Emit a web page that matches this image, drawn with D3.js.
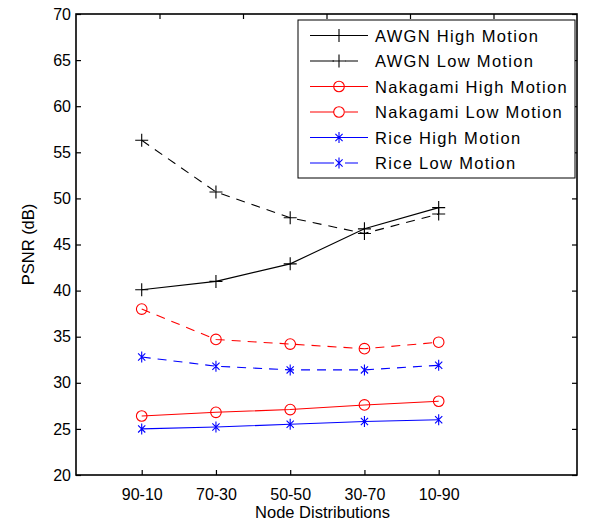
<!DOCTYPE html>
<html>
<head>
<meta charset="utf-8">
<script src="https://cdn.jsdelivr.net/npm/d3@7"></script>
<style>
  body { margin: 0; background: #fff; }
  svg { font-family: Arial, "Liberation Sans", sans-serif; }
</style>
</head>
<body>
<svg id="chart" width="589" height="523"></svg>
<script>
// node distribution categories
const categories = ["90-10", "70-30", "50-50", "30-70", "10-90"];
const yTicks = [20, 25, 30, 35, 40, 45, 50, 55, 60, 65, 70];

// PSNR values (dB)
const awgnHigh = [40.1, 41.0, 42.9, 46.7, 49.0];
const awgnLow = [56.3, 50.7, 47.9, 46.2, 48.3];
const nakHigh = [26.4, 26.8, 27.1, 27.6, 28.0];
const nakLow = [38.0, 34.7, 34.2, 33.7, 34.4];
const riceHigh = [25.0, 25.2, 25.5, 25.8, 26.0];
const riceLow = [32.8, 31.8, 31.4, 31.4, 31.9];

const series = [
    { name: "AWGN High Motion", values: awgnHigh, color: "#000", dash: null, marker: "plus" },
    { name: "AWGN Low Motion", values: awgnLow, color: "#000", dash: "9,7", marker: "plus" },
    { name: "Nakagami High Motion", values: nakHigh, color: "#f00", dash: null, marker: "circle" },
    { name: "Nakagami Low Motion", values: nakLow, color: "#f00", dash: "9,7", marker: "circle" },
    { name: "Rice High Motion", values: riceHigh, color: "#00f", dash: null, marker: "star" },
    { name: "Rice Low Motion", values: riceLow, color: "#00f", dash: "9,7", marker: "star" }
];

const plotL = 76, plotR = 577, plotT = 14, plotB = 475;
const svg = d3.select("#chart");

const x = d3.scaleLinear().domain([-0.885, 5.863]).range([plotL, plotR]);
const xTop = d3.scaleLinear().domain([0, 6]).range([plotL, plotR]);
const y = d3.scaleLinear().domain([20, 70]).range([plotB, plotT]);

// draw a marker at px,py
function drawMarker(g, type, px, py, color) {
    if (type === "plus") {
        g.append("path")
            .attr("d", `M${px - 6.5},${py}H${px + 6.5}M${px},${py - 6.5}V${py + 6.5}`)
            .attr("stroke", color).attr("stroke-width", 1.1).attr("fill", "none");
    } else if (type === "circle") {
        g.append("circle")
            .attr("cx", px).attr("cy", py).attr("r", 5.3)
            .attr("stroke", color).attr("stroke-width", 1.1).attr("fill", "none");
    } else {
        const r = 5.5, d = 3.6;
        g.append("path")
            .attr("d", `M${px},${py - r}V${py + r}M${px - d},${py - d}L${px + d},${py + d}M${px - d},${py + d}L${px + d},${py - d}`)
            .attr("stroke", color).attr("stroke-width", 1.1).attr("fill", "none");
    }
}

// series
const line = d3.line().x((d, i) => x(i)).y(d => y(d));
series.forEach(s => {
    const g = svg.append("g");
    g.append("path")
        .datum(s.values)
        .attr("d", line)
        .attr("fill", "none")
        .attr("stroke", s.color)
        .attr("stroke-width", 1.1)
        .attr("stroke-dasharray", s.dash);
    s.values.forEach((v, i) => drawMarker(g, s.marker, x(i), y(v), s.color));
});

// axes box
svg.append("rect")
    .attr("x", plotL).attr("y", plotT)
    .attr("width", plotR - plotL).attr("height", plotB - plotT)
    .attr("fill", "none").attr("stroke", "#000").attr("stroke-width", 1.6);

const yAxis = svg.append("g")
    .attr("transform", `translate(${plotL},0)`)
    .call(d3.axisLeft(y).tickValues(yTicks).tickSize(-5).tickPadding(5));
yAxis.select(".domain").remove();
yAxis.selectAll("text").attr("font-size", 16).attr("fill", "#000").attr("font-family", null);

const yAxisR = svg.append("g")
    .attr("transform", `translate(${plotR},0)`)
    .call(d3.axisRight(y).tickValues(yTicks).tickSize(-5).tickFormat(""));
yAxisR.select(".domain").remove();

const xAxis = svg.append("g")
    .attr("transform", `translate(0,${plotB})`)
    .call(d3.axisBottom(x).tickValues(d3.range(categories.length))
        .tickFormat(i => categories[i]).tickSize(-5).tickPadding(14));
xAxis.select(".domain").remove();
xAxis.selectAll("text").attr("font-size", 16).attr("fill", "#000").attr("font-family", null);

const xAxisT = svg.append("g")
    .attr("transform", `translate(0,${plotT})`)
    .call(d3.axisTop(xTop).tickValues([1, 2, 3, 4, 5]).tickSize(-5).tickFormat(""));
xAxisT.select(".domain").remove();

svg.selectAll(".tick line").attr("stroke", "#000").attr("stroke-width", 1.2);

// axis titles
svg.append("text")
    .attr("x", (plotL + plotR) / 2 - 4).attr("y", 518)
    .attr("text-anchor", "middle").attr("font-size", 16.5)
    .text("Node Distributions");

svg.append("text")
    .attr("transform", `translate(34,${(plotT + plotB) / 2}) rotate(-90)`)
    .attr("text-anchor", "middle").attr("font-size", 16.5)
    .text("PSNR (dB)");

// legend
const legend = svg.append("g");
legend.append("rect")
    .attr("x", 298).attr("y", 20).attr("width", 277).attr("height", 158)
    .attr("fill", "#fff").attr("stroke", "#000").attr("stroke-width", 1);

series.forEach((s, i) => {
    const ly = 35.5 + i * 25.5;
    const row = legend.append("g");
    if (s.dash) {
        row.append("path").attr("d", `M310,${ly}H334M345,${ly}H358`)
            .attr("stroke", s.color).attr("stroke-width", 1.1).attr("fill", "none");
    } else {
        row.append("path").attr("d", `M310,${ly}H368`)
            .attr("stroke", s.color).attr("stroke-width", 1.1).attr("fill", "none");
    }
    drawMarker(row, s.marker, 339, ly, s.color);
    row.append("text")
        .attr("x", 375).attr("y", ly + 6)
        .attr("font-size", 16.5)
        .attr("letter-spacing", 1.3)
        .text(s.name);
});
</script>
</body>
</html>
